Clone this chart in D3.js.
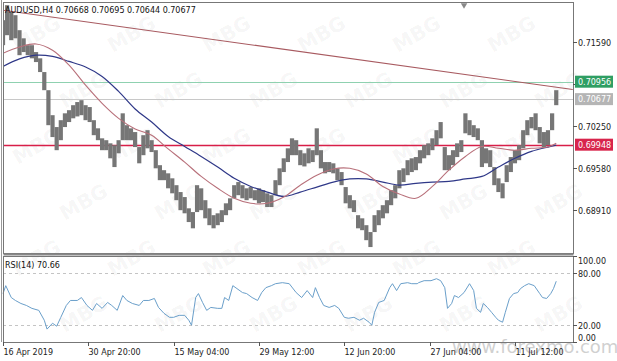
<!DOCTYPE html>
<html>
<head>
<meta charset="utf-8">
<script src="https://cdn.jsdelivr.net/npm/d3@7"></script>
<style>
body { margin: 0; background: #fff; }
svg { display: block; font-family: "DejaVu Sans", sans-serif; }
</style>
</head>
<body>
<div id="chart-area"></div>
<script>
// price bars, one sample every 3 H4 bars
var hi = [.7194,.7218,.7207,.7202,.7178,.7165,.7154,.7154,.7143,.7133,
.7111,.7082,.7042,.7023,.7034,.7045,.7050,.7058,.7063,.7066,
.7058,.7055,.7034,.7021,.7005,.7002,.6997,.6994,.7002,.7045,
.7026,.7021,.7015,.6991,.7010,.7018,.7002,.6986,.6962,.6954,
.6949,.6941,.6930,.6919,.6911,.6893,.6887,.6930,.6925,.6906,
.6893,.6882,.6885,.6890,.6901,.6909,.6930,.6935,.6930,.6925,
.6927,.6922,.6925,.6922,.6917,.6914,.6938,.6957,.6973,.6989,
.7005,.7002,.6986,.6981,.6989,.6986,.7021,.6986,.6967,.6967,
.6965,.6957,.6951,.6927,.6914,.6906,.6882,.6877,.6866,.6855,
.6882,.6890,.6898,.6906,.6922,.6930,.6954,.6957,.6970,.6973,
.6975,.6986,.6994,.6997,.7005,.7018,.7031,.6991,.6978,.6986,
.6997,.7002,.7045,.7034,.7026,.7021,.7002,.6989,.6986,.6959,
.6941,.6933,.6962,.6975,.6986,.6994,.7018,.7034,.7039,.7045,
.7023,.7015,.7018,.7045,.7082];
var lo = [.7154,.7170,.7162,.7165,.7138,.7143,.7138,.7133,.7127,.7111,
.7082,.7026,.7007,.6986,.7002,.7023,.7031,.7037,.7040,.7042,
.7034,.7031,.7010,.7002,.6986,.6986,.6973,.6959,.6981,.7002,
.7002,.7002,.6991,.6965,.6978,.6989,.6983,.6957,.6938,.6938,
.6925,.6917,.6906,.6890,.6885,.6871,.6861,.6887,.6890,.6877,
.6866,.6861,.6866,.6871,.6882,.6890,.6909,.6914,.6909,.6906,
.6909,.6906,.6901,.6903,.6895,.6895,.6914,.6930,.6951,.6967,
.6978,.6978,.6962,.6960,.6965,.6967,.6978,.6957,.6949,.6951,
.6949,.6938,.6930,.6901,.6893,.6887,.6861,.6858,.6842,.6831,
.6855,.6866,.6877,.6885,.6898,.6909,.6925,.6935,.6946,.6951,
.6954,.6965,.6973,.6978,.6986,.6994,.7005,.6954,.6954,.6962,
.6975,.6983,.7013,.7010,.7007,.7002,.6959,.6965,.6959,.6930,
.6919,.6909,.6935,.6951,.6965,.6970,.6989,.7010,.7021,.7018,
.6997,.6991,.6994,.7018,.7058];
var barStep = 3;

// moving averages
var maBars = [0,12,24,36,48,60,72,84,96,108,120,132,144,156,168,180,192,204,216,228,240,252,264,276,288,300,312,324,336,348,360,372,384,396,402];
var maRed = [.7141,.7151,.7156,.7146,.7122,.7090,.7061,.7037,.7020,.7010,.6988,.6967,.6944,.6925,.6909,.6901,.6901,.6911,.6930,.6946,.6956,.6957,.6948,.6928,.6916,.6909,.6928,.6954,.6976,.6992,.6989,.6986,.6989,.6991,.6997];
var maBlue = [.7120,.7132,.7138,.7136,.7128,.7119,.7104,.7080,.7052,.7031,.7008,.6992,.6976,.6959,.6941,.6928,.6919,.6912,.6919,.6927,.6935,.6940,.6940,.6935,.6930,.6933,.6935,.6936,.6940,.6944,.6959,.6973,.6984,.6991,.6994];

// RSI(14)
var rsiBars = [0,2,6,9,13,17,21,26,30,32,36,39,42,46,49,54,57,61,65,68,72,76,79,83,87,90,94,99,102,106,110,113,117,121,124,128,132,135,137,140,142,145,148,151,156,159,161,164,167,170,174,177,181,185,188,191,195,198,203,208,213,217,221,225,227,230,233,237,241,244,248,251,255,259,262,266,268,270,273,277,281,283,286,289,294,297,301,302,306,311,315,318,321,323,326,328,331,335,339,342,344,347,349,352,355,358,360,363,365,368,371,374,376,379,382,386,390,392,395,398,400,402];
var rsiVals = [56.3,65.5,51.7,48.3,44.8,42.5,39.1,36.8,25.3,15.0,21.8,18.4,28.7,42.5,48.3,48.3,51.7,42.5,36.8,44.8,39.1,46.0,42.5,36.8,54.0,48.3,44.8,42.5,48.3,48.3,50.6,40.2,33.3,28.7,28.7,31.0,31.0,25.3,19.5,51.7,56.3,46.0,36.8,40.2,39.1,39.1,51.7,48.3,65.5,62.1,57.5,56.3,51.7,48.3,57.5,63.2,65.5,67.8,69.0,67.8,57.5,51.7,59.8,51.7,63.2,51.7,42.5,40.2,42.5,39.1,28.7,27.6,28.7,25.3,27.6,23.0,19.5,34.5,46.0,48.3,63.2,67.8,59.8,67.8,69.0,67.8,67.8,69.0,71.3,71.3,73.6,71.3,63.2,39.1,44.8,54.0,51.7,57.5,67.8,59.8,39.1,34.5,44.8,40.2,34.5,28.7,25.3,23.0,34.5,50.6,56.3,57.5,62.1,65.5,67.8,65.5,56.3,51.7,50.6,56.3,62.1,70.66];

var priceTicks = [0.71590, 0.70920, 0.70250, 0.69580, 0.68910];
var rsiTicks = [100, 80, 20, 0];
var rsiLevels = [80, 20];
var dateBars = [0, 62, 124, 186, 248, 310, 372];
var dateLabels = ["16 Apr 2019", "30 Apr 20:00", "15 May 04:00", "29 May 12:00", "12 Jun 20:00", "27 Jun 04:00", "11 Jul 12:00"];
var levelValues = [0.70956, 0.70677, 0.69948];
var trendBars = [0, 414];
var trendPrices = [0.7210, 0.7083];

var W = 617, H = 361;
var left = 3, right = 573, mainTop = 2, mainBottom = 253, rsiTop = 256, rsiBottom = 342;

var svg = d3.select("#chart-area")
    .append("svg")
    .attr("width", W)
    .attr("height", H);

var x = d3.scaleLinear().domain([0, 404]).range([3, 559]);
var y = d3.scaleLinear().domain([0.68215, 0.72215]).range([mainBottom, 3]);
var yr = d3.scaleLinear().domain([0, 100]).range([rsiBottom, rsiTop]);

svg.append("defs").append("clipPath").attr("id", "mainClip")
    .append("rect").attr("x", left).attr("y", mainTop).attr("width", right - left).attr("height", mainBottom - mainTop);

// watermarks (kept inside the picture)
var wm = svg.append("g");
d3.range(0, 6).forEach((r) => {
    d3.range(0, 7).forEach((c) => {
        var cx = c * 95 + (r % 2) * 47 + 40;
        var cy = r * 56 + 40;
        if (cx > 570 || cy > 330) return;
        wm.append("text")
            .attr("transform", "translate(" + cx + "," + cy + ") rotate(-30)")
            .attr("text-anchor", "middle")
            .attr("font-size", 20)
            .attr("font-weight", "bold")
            .attr("fill", "#000")
            .attr("fill-opacity", 0.05)
            .text("MBG");
    });
});
svg.append("text")
    .attr("x", 452).attr("y", 353)
    .attr("font-size", 18)
    .attr("fill", "#bbb")
    .attr("fill-opacity", 0.7)
    .text("www.forexmo.com");

// horizontal levels (green, bid, red)
var levelColours = ["#8fd1b0", "#c8c8c8", "#d81e48"];
var levelWidths = [1, 1, 1.4];
svg.selectAll(".level").data(levelValues).enter()
    .append("line")
    .attr("x1", left).attr("x2", right)
    .attr("y1", (d) => Math.round(y(d)) + 0.5)
    .attr("y2", (d) => Math.round(y(d)) + 0.5)
    .attr("stroke", (d, i) => levelColours[i])
    .attr("stroke-width", (d, i) => levelWidths[i]);

var plot = svg.append("g").attr("clip-path", "url(#mainClip)");

// price bars
plot.selectAll(".bar").data(hi).enter()
    .append("line")
    .attr("x1", (d, i) => x(i * barStep))
    .attr("x2", (d, i) => x(i * barStep))
    .attr("y1", (d) => y(d))
    .attr("y2", (d, i) => y(lo[i]))
    .attr("stroke", "#767676")
    .attr("stroke-width", 4.2);

// moving averages
var maLine = d3.line()
    .x((d, i) => x(maBars[i]))
    .y((d) => y(d))
    .curve(d3.curveCatmullRom);
plot.append("path").attr("d", maLine(maBlue))
    .attr("fill", "none").attr("stroke", "#2f3888").attr("stroke-width", 1.2);
plot.append("path").attr("d", maLine(maRed))
    .attr("fill", "none").attr("stroke", "#b8707a").attr("stroke-width", 1.1);

// trend line
plot.append("line")
    .attr("x1", x(trendBars[0])).attr("y1", y(trendPrices[0]))
    .attr("x2", x(trendBars[1])).attr("y2", y(trendPrices[1]))
    .attr("stroke", "#a85a60").attr("stroke-width", 1.1);

// header
svg.append("text").attr("x", 5).attr("y", 13).attr("font-size", 8).attr("fill", "#111")
    .text("AUDUSD,H4  0.70668 0.70695 0.70644 0.70677");

// RSI panel
svg.selectAll(".rlev").data(rsiLevels).enter()
    .append("line")
    .attr("x1", left).attr("x2", right)
    .attr("y1", (d) => Math.round(yr(d)) + 0.5)
    .attr("y2", (d) => Math.round(yr(d)) + 0.5)
    .attr("stroke", "#c4c4c4")
    .attr("stroke-dasharray", "3,3");

var rsiLine = d3.line()
    .x((d, i) => x(rsiBars[i]))
    .y((d) => yr(d));
svg.append("path").attr("d", rsiLine(rsiVals))
    .attr("fill", "none").attr("stroke", "#6a9fca").attr("stroke-width", 1);

svg.append("text").attr("x", 5).attr("y", 268).attr("font-size", 8).attr("fill", "#111")
    .text("RSI(14) 70.66");

// frames
svg.append("rect").attr("x", left + 0.5).attr("y", mainTop + 0.5)
    .attr("width", right - left).attr("height", mainBottom - mainTop)
    .attr("fill", "none").attr("stroke", "#777");
svg.append("rect").attr("x", left + 0.5).attr("y", mainBottom + 0.5)
    .attr("width", right - left).attr("height", 2)
    .attr("fill", "#888");
svg.append("rect").attr("x", left + 0.5).attr("y", rsiTop + 0.5)
    .attr("width", right - left).attr("height", rsiBottom - rsiTop)
    .attr("fill", "none").attr("stroke", "#777");
svg.append("line").attr("x1", 1.5).attr("x2", 1.5).attr("y1", 0).attr("y2", rsiBottom)
    .attr("stroke", "#999");

// small top marker
svg.append("path")
    .attr("d", d3.symbol().type(d3.symbolTriangle).size(18)())
    .attr("transform", "translate(" + x(335) + ",5) rotate(180)")
    .attr("fill", "#888");

// price axis
var pAxis = svg.append("g");
priceTicks.forEach((t) => {
    var yy = Math.round(y(t)) + 0.5;
    pAxis.append("line").attr("x1", right).attr("x2", right + 4).attr("y1", yy).attr("y2", yy).attr("stroke", "#555");
    if (t !== 0.70920) {
        pAxis.append("text").attr("x", 578).attr("y", yy + 3).attr("font-size", 8).attr("fill", "#222")
            .text(d3.format(".5f")(t));
    }
});

// level tags
var tagFill = ["#2f9e63", "#b5b5b5", "#d8254c"];
levelValues.forEach((v, i) => {
    var yy = y(v);
    svg.append("rect").attr("x", 575).attr("y", yy - 6).attr("width", 38).attr("height", 12).attr("fill", tagFill[i]);
    svg.append("text").attr("x", 578).attr("y", yy + 3).attr("font-size", 8).attr("fill", "#fff")
        .text(d3.format(".5f")(v));
});

// RSI axis
rsiTicks.forEach((t) => {
    var yy = Math.round(yr(t)) + 0.5;
    svg.append("line").attr("x1", right).attr("x2", right + 4).attr("y1", yy).attr("y2", yy).attr("stroke", "#555");
    var ty = t === 100 ? yy + 7 : (t === 0 ? yy - 2 : yy + 3);
    svg.append("text").attr("x", 578).attr("y", ty).attr("font-size", 8).attr("fill", "#222")
        .text(d3.format(".2f")(t));
});

// date axis
dateBars.forEach((b, i) => {
    var xx = Math.round(x(b)) + 0.5;
    svg.append("line").attr("x1", xx).attr("x2", xx).attr("y1", rsiBottom).attr("y2", rsiBottom + 4).attr("stroke", "#555");
    svg.append("text").attr("x", xx).attr("y", 355).attr("font-size", 8).attr("fill", "#222")
        .text(dateLabels[i]);
});
</script>
</body>
</html>
